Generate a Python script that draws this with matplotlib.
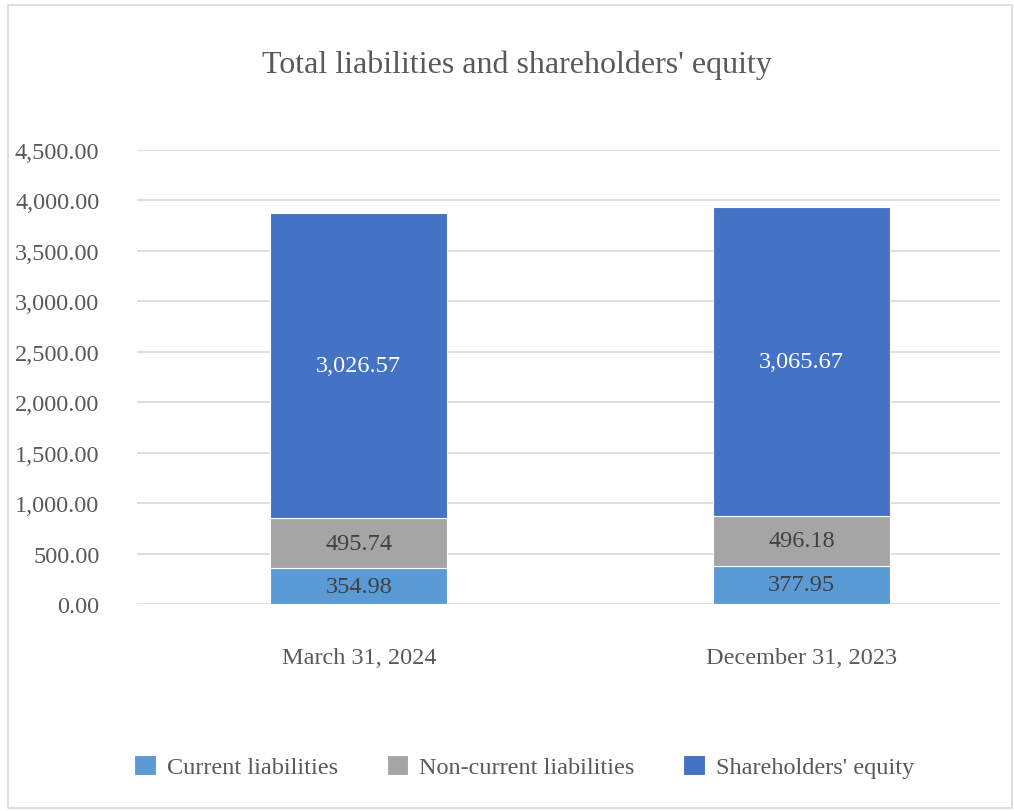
import matplotlib.pyplot as plt
import numpy as np
from matplotlib.patches import Rectangle

plt.rcParams['font.family'] = ['Liberation Serif', 'DejaVu Serif']

categories = ['March 31, 2024', 'December 31, 2023']
current_liab = [354.98, 377.95]
noncurrent_liab = [495.74, 496.18]
equity = [3026.57, 3065.67]
series_names = ['Current liabilities', 'Non-current liabilities', "Shareholders' equity"]
y_ticks = [0, 500, 1000, 1500, 2000, 2500, 3000, 3500, 4000, 4500]

colors = ['#5B9BD5', '#A5A5A5', '#4472C4']
label_colors = ['#404040', '#404040', 'white']
text_color = '#595959'

fig = plt.figure(figsize=(10.14, 8.12), dpi=100)
fig.patches.append(Rectangle((0.008, 0.004), 0.99, 0.989, transform=fig.transFigure,
                             fill=False, edgecolor='#D9D9D9', linewidth=1.2))
ax = fig.add_axes([0.135, 0.255, 0.851, 0.559])

x = np.arange(len(categories))
width = 0.40
bottom = np.zeros(len(categories))
for vals, name, col, lcol in zip([current_liab, noncurrent_liab, equity],
                                 series_names, colors, label_colors):
    bars = ax.bar(x, vals, width, bottom=bottom, color=col, label=name,
                  edgecolor='white', linewidth=0.8, zorder=3)
    ax.bar_label(bars, labels=[f'{v:,.2f}' for v in vals], label_type='center',
                 color=lcol, fontsize=17.5)
    bottom += np.array(vals)

ax.set_xlim(-0.501, 1.447)
ax.set_ylim(0, 4500)
ax.set_yticks(y_ticks)
ax.set_yticklabels([f'{v:,.2f}' for v in y_ticks])
ax.set_xticks(x)
ax.set_xticklabels(categories)
ax.tick_params(axis='both', length=0, labelsize=17.5, colors=text_color)
ax.tick_params(axis='x', pad=31)
ax.tick_params(axis='y', pad=27)
ax.grid(axis='y', color='#D9D9D9', linewidth=1.2, zorder=0)
for s in ax.spines.values():
    s.set_visible(False)

fig.text(0.51, 0.920, "Total liabilities and shareholders' equity", ha='center', va='center',
         fontsize=23, color=text_color)

fig.legend(loc='center', bbox_to_anchor=(0.517, 0.055), ncol=3, frameon=False,
           fontsize=17.5, handlelength=0.9, handleheight=0.9, columnspacing=2.0,
           handletextpad=0.45, labelcolor=text_color)

plt.savefig('out.png', dpi=100)
